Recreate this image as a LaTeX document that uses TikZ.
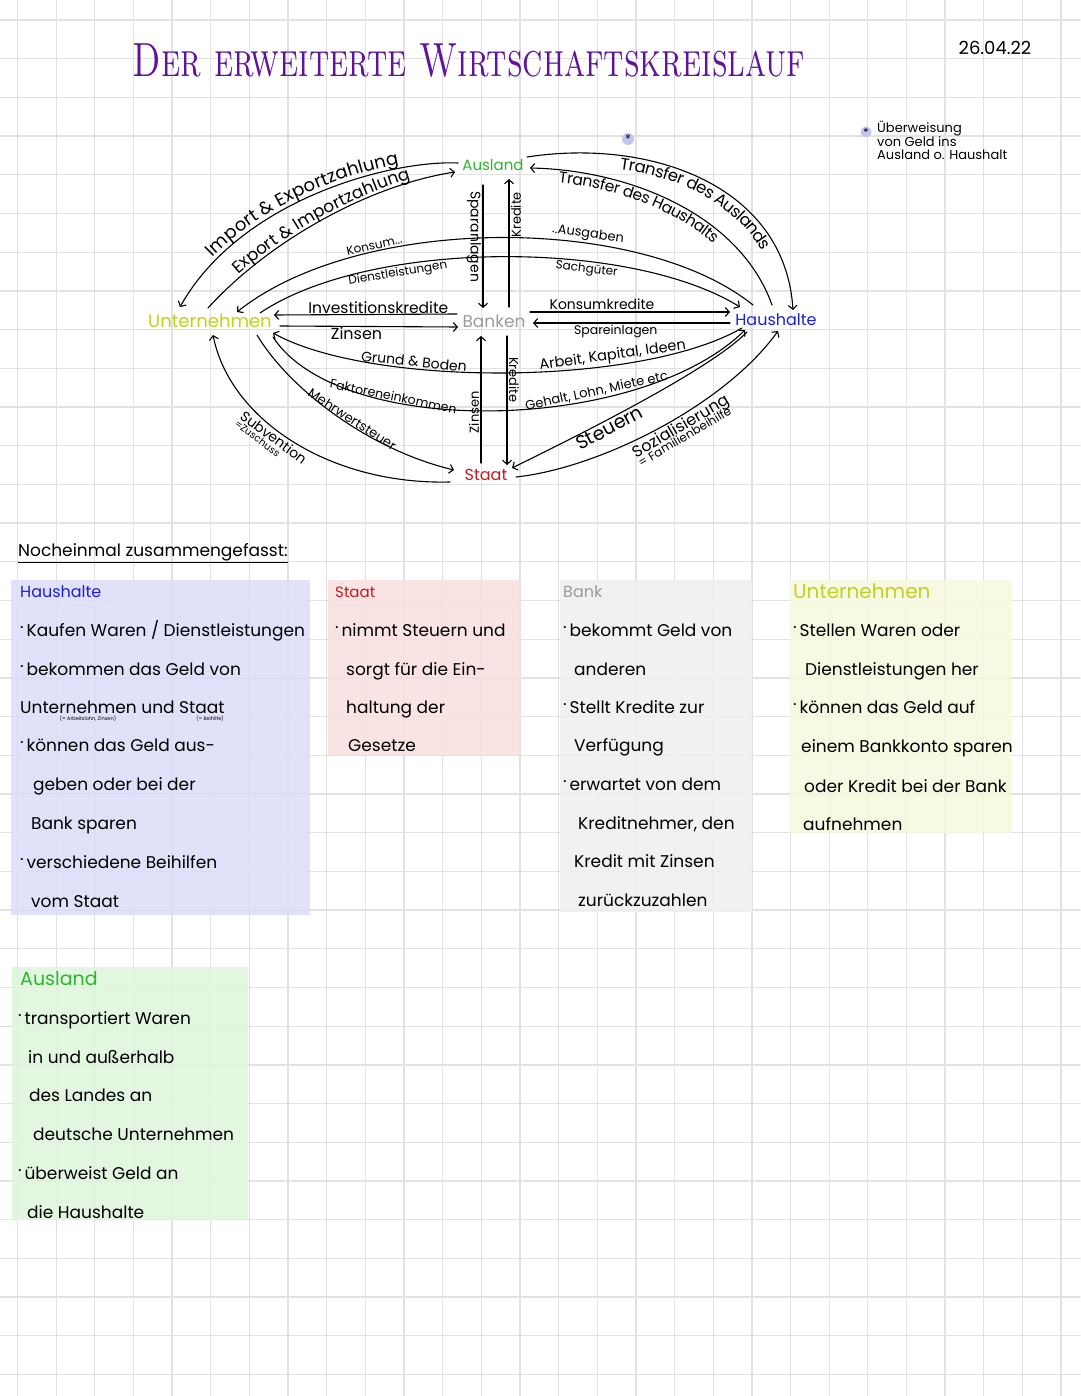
\documentclass[tikz,border=0pt]{standalone}
\usepackage{fontspec}
\newfontfamily\hand{Poppins}
\usetikzlibrary{arrows.meta,decorations.text}

\definecolor{titlecol}{RGB}{96,18,152}
\definecolor{untcol}{RGB}{196,208,30}
\definecolor{auslcol}{RGB}{46,184,46}
\definecolor{bankcol}{RGB}{155,155,155}
\definecolor{staatcol}{RGB}{200,24,32}
\definecolor{hauscol}{RGB}{30,30,212}
\definecolor{gridcol}{RGB}{226,226,226}
\definecolor{hausfill}{RGB}{220,220,248}
\definecolor{staatfill}{RGB}{248,223,223}
\definecolor{bankfill}{RGB}{239,239,239}
\definecolor{untfill}{RGB}{246,248,222}
\definecolor{auslfill}{RGB}{222,245,219}
\definecolor{starcol}{RGB}{196,196,240}

\newcommand{\fsz}[1]{\fontsize{#1}{#1}\selectfont}
\newcommand{\bul}{\raisebox{.45em}{.}\,}

\begin{document}
\begin{tikzpicture}[x=1pt, y=-1pt, line cap=round,
  every node/.style={inner sep=1pt},
  sector/.style={font={\hand\fsz{#1}}},
  lbl/.style={font={\hand\fsz{#1}}, inner sep=1.5pt},
  flow/.style={line width=1.1pt, -{Straight Barb[length=4pt,width=9pt,line width=1.1pt]}},
  arctext/.style={decorate, decoration={text along path, raise=#1}},
  boxfill/.style={fill opacity=0.85},
  itemtext/.style={font={\hand\fsz{17}}, anchor=base west, inner sep=0pt},
  heading/.style={font={\hand\fsz{#1}}, anchor=base west, inner sep=0pt},
]
\useasboundingbox (0,0) rectangle (1080,1396);
\fill[white] (0,0) rectangle (1080,1396);
% squared paper
\foreach \k in {0,...,27} \draw[gridcol, line width=1.3pt] ({17.5+38.65*\k},0) -- ({17.5+38.65*\k},1396);
\foreach \k in {0,...,35} \draw[gridcol, line width=1.3pt] (0,{20+38.7*\k}) -- (1080,{20+38.7*\k});

% title + date
\node[font=\fsz{48}, text=titlecol, xscale=0.717] (title) at (469,61) {\textsc{Der erweiterte Wirtschaftskreislauf}};
\node[font={\hand\fsz{18}}] (date) at (995,48) {26.04.22};

% sectors
\node[sector=15, text=auslcol] (ausl) at (493,165) {Ausland};
\node[sector=17, text=bankcol] (bank) at (494,321) {Banken};
\node[sector=16, text=staatcol] (staat) at (486,475) {Staat};
\node[sector=18, text=untcol] (unt) at (210,321) {Unternehmen};
\node[sector=16, text=hauscol] (haus) at (776,320) {Haushalte};

% Ausland <-> Unternehmen
\draw[flow] ([shift={(-35,-2)}]ausl.center) .. controls (390,160) and (240,200) .. ([shift={(-30,-14)}]unt.center);
\path[arctext=4pt, decoration={text align=center, text={|\hand\fsz{18}|Import {\&} Exportzahlung}}]
  ([shift={(-30,-14)}]unt.center) .. controls (240,200) and (390,160) .. ([shift={(-35,-2)}]ausl.center);
\draw[flow] ([shift={(-2,-13)}]unt.center) .. controls (270,240) and (370,185) .. ([shift={(-38,7)}]ausl.center);
\path[arctext=3pt, decoration={text align=center, text={|\hand\fsz{17}|Export {\&} Importzahlung}}]
  ([shift={(-2,-13)}]unt.center) .. controls (270,240) and (370,185) .. ([shift={(-38,7)}]ausl.center);
% Ausland <-> Haushalte
\draw[flow] ([shift={(-4,-15)}]haus.center) .. controls (740,215) and (630,170) .. ([shift={(37,3)}]ausl.center);
\path[arctext=-13pt, decoration={text align={left, left indent=30pt}, text={|\hand\fsz{15.5}|Transfer des Haushalts}}]
  ([shift={(37,3)}]ausl.center) .. controls (630,170) and (740,215) .. ([shift={(-4,-15)}]haus.center);
\draw[flow] ([shift={(34,-8)}]ausl.center) .. controls (650,138) and (785,185) .. ([shift={(17,-10)}]haus.center);
\path[arctext=-14pt, decoration={text align={left, left indent=95pt}, text={|\hand\fsz{16.5}|Transfer des Auslands}}]
  ([shift={(34,-8)}]ausl.center) .. controls (650,138) and (785,185) .. ([shift={(17,-10)}]haus.center);

% Haushalte <-> Unternehmen (upper)
\draw[flow] ([shift={(-23,-15)}]haus.center) .. controls (640,214) and (360,214) .. ([shift={(27,-9)}]unt.center)
  node[lbl=13, pos=.35, sloped, above] (l-ausg) {..Ausgaben}
  node[lbl=12, pos=.71, sloped, above] (l-kons) {Konsum...};
\draw[flow] ([shift={(50,-8)}]unt.center) .. controls (370,239) and (630,239) .. ([shift={(-36,-13)}]haus.center)
  node[lbl=12, pos=.31, sloped, below] (l-dien) {Dienstleistungen}
  node[lbl=12, pos=.66, sloped, below] (l-sach) {Sachgüter};

% Banken <-> Unternehmen / Haushalte
\draw[flow] ([shift={(-37,-7)}]bank.center) -- ([shift={(64,-6)}]unt.center)
  node[lbl=15.5, pos=.43, above, inner sep=0.5pt] (l-inv) {Investitionskredite};
\draw[flow] ([shift={(70,5)}]unt.center) -- ([shift={(-36,6)}]bank.center)
  node[lbl=16, pos=.43, below, inner sep=0.5pt] (l-zins1) {Zinsen};
\draw[flow] ([shift={(36,-9)}]bank.center) -- ([shift={(-46,-8)}]haus.center)
  node[lbl=14, pos=.36, above] (l-kk) {Konsumkredite};
\draw[flow] ([shift={(-46,3)}]haus.center) -- ([shift={(39,2)}]bank.center)
  node[lbl=12.5, pos=.58, below] (l-spar) {Spareinlagen};

% Banken <-> Ausland / Staat
\draw[flow] ([shift={(-10,20)}]ausl.center) -- ([shift={(-11,-13)}]bank.center)
  node[lbl=14, pos=.42, rotate=-90, anchor=north] (l-spa) {Sparanlagen};
\draw[flow] ([shift={(15,-14)}]bank.center) -- ([shift={(16,14)}]ausl.center)
  node[lbl=13, pos=.72, rotate=90, anchor=north] (l-kr1) {Kredite};
\draw[flow] ([shift={(-5,-12)}]staat.center) -- ([shift={(-13,15)}]bank.center)
  node[lbl=13, pos=.4, rotate=90, anchor=south] (l-zins2) {Zinsen};
\draw[flow] ([shift={(13,15)}]bank.center) -- ([shift={(21,-10)}]staat.center)
  node[lbl=13, pos=.34, rotate=-90, anchor=south] (l-kr2) {Kredite};

% Haushalte <-> Unternehmen (lower)
\draw[flow] ([shift={(-34,8)}]haus.center) .. controls (640,387) and (370,387) .. ([shift={(63,12)}]unt.center)
  node[lbl=14.5, pos=.3, sloped, above] (l-aki) {Arbeit, Kapital, Ideen}
  node[lbl=14, pos=.67, sloped, above] (l-gb) {Grund \& Boden};
\draw[flow] ([shift={(63,16)}]unt.center) .. controls (340,440) and (640,433) .. ([shift={(-31,10)}]haus.center)
  node[lbl=12.5, pos=.315, sloped, above, inner sep=0.5pt] (l-fak) {Faktoreneinkommen}
  node[lbl=13, pos=.68, sloped, above] (l-geh) {Gehalt, Lohn, Miete etc};

% Staat <-> Unternehmen
\draw[flow] ([shift={(47,14)}]unt.center) .. controls (290,390) and (370,450) .. ([shift={(-32,-5)}]staat.center)
  node[lbl=13, pos=.56, sloped, above, inner sep=0.5pt] (l-mwst) {Mehrwertsteuer};
\draw[flow] ([shift={(-36,7)}]staat.center) .. controls (330,485) and (230,420) .. ([shift={(3,14)}]unt.center)
  node[lbl=14, pos=.56, sloped, below, align=left] (l-sub) {Subvention\\[-5pt]{\fsz{10}=Zuschuss}};
% Staat <-> Haushalte
\draw[flow] ([shift={(-29,12)}]haus.center) .. controls (715,365) and (610,420) .. ([shift={(26,-7)}]staat.center)
  node[lbl=19, pos=.68, sloped, below, inner sep=0.5pt] (l-st) {Steuern};
\draw[flow] ([shift={(30,2)}]staat.center) .. controls (600,468) and (725,405) .. ([shift={(2,11)}]haus.center)
  node[lbl=16, pos=.56, sloped, below, align=left] (l-soz) {Sozialisierung\\[-6pt]{\fsz{12}= Familienbeihilfe}};

% asterisk + note
\node[circle, fill=starcol, minimum size=12pt, inner sep=0pt, font={\hand\fsz{12}}] (star1) at (628,139) {*};
\node[circle, fill=starcol, minimum size=11pt, inner sep=0pt, font={\hand\fsz{11}}] (star2) at (866,132) {*};
\node[font={\hand\fontsize{13}{12.5}\selectfont}, align=left, anchor=north west, inner sep=0pt] (note) at (877,121)
  {Überweisung\\von Geld ins\\Ausland o. Haushalt};

% summary
\node[font={\hand\fsz{17}}, anchor=base west, inner sep=0pt] (summ) at (18,556) {\underline{Nocheinmal zusammengefasst:}};

% Haushalte
\fill[hausfill, boxfill] (11,580) rectangle (310,915);
\node[heading=16, text=hauscol] (h-head) at (20,597) {Haushalte};
\foreach \i/\x/\y/\txt in {1/20/636/{\bul Kaufen Waren / Dienstleistungen}, 2/20/675/{\bul bekommen das Geld von},
  3/20/713/{Unternehmen und Staat}, 4/20/751/{\bul können das Geld aus-}, 5/33/790/{geben oder bei der},
  6/31/829/{Bank sparen}, 7/20/868/{\bul verschiedene Beihilfen}, 8/31/907/{vom Staat}}
  \node[itemtext] (h\i) at (\x,\y) {\txt};
\node[font={\hand\fsz{5}}, inner sep=0pt] (h-sub1) at (88,719) {(= Arbeitslohn, Zinsen)};
\node[font={\hand\fsz{5}}, inner sep=0pt] (h-sub2) at (210,719) {(= Beihilfe)};

% Staat
\fill[staatfill, boxfill] (328,580) rectangle (521,755);
\node[heading=15, text=staatcol] (s-head) at (335,597) {Staat};
\foreach \i/\x/\y/\txt in {1/335/636/{\bul nimmt Steuern und}, 2/346/675/{sorgt für die Ein-},
  3/346/713/{haltung der}, 4/348/751/{Gesetze}}
  \node[itemtext] (s\i) at (\x,\y) {\txt};

% Bank
\fill[bankfill, boxfill] (560,580) rectangle (752,912);
\node[heading=16, text=bankcol] (b-head) at (563,597) {Bank};
\foreach \i/\x/\y/\txt in {1/563/636/{\bul bekommt Geld von}, 2/574/675/{anderen},
  3/563/713/{\bul Stellt Kredite zur}, 4/574/751/{Verfügung}, 5/563/790/{\bul erwartet von dem},
  6/578/829/{Kreditnehmer, den}, 7/574/867/{Kredit mit Zinsen}, 8/578/906/{zurückzuzahlen}}
  \node[itemtext] (b\i) at (\x,\y) {\txt};

% Unternehmen
\fill[untfill, boxfill] (790,580) rectangle (1012,833);
\node[heading=20, text=untcol] (u-head) at (793,598) {Unternehmen};
\foreach \i/\x/\y/\txt in {1/793/636/{\bul Stellen Waren oder}, 2/805/675/{Dienstleistungen her},
  3/793/713/{\bul können das Geld auf}, 4/801/752/{einem Bankkonto sparen},
  5/804/792/{oder Kredit bei der Bank}, 6/803/830/{aufnehmen}}
  \node[itemtext] (u\i) at (\x,\y) {\txt};

% Ausland
\fill[auslfill, boxfill] (12,967) rectangle (248,1220);
\node[heading=19, text=auslcol] (a-head) at (20,985) {Ausland};
\foreach \i/\x/\y/\txt in {1/18/1024/{\bul transportiert Waren}, 2/28/1063/{in und außerhalb},
  3/29/1101/{des Landes an}, 4/33/1140/{deutsche Unternehmen}, 5/18/1179/{\bul überweist Geld an},
  6/27/1218/{die Haushalte}}
  \node[itemtext] (a\i) at (\x,\y) {\txt};
\end{tikzpicture}
\end{document}
